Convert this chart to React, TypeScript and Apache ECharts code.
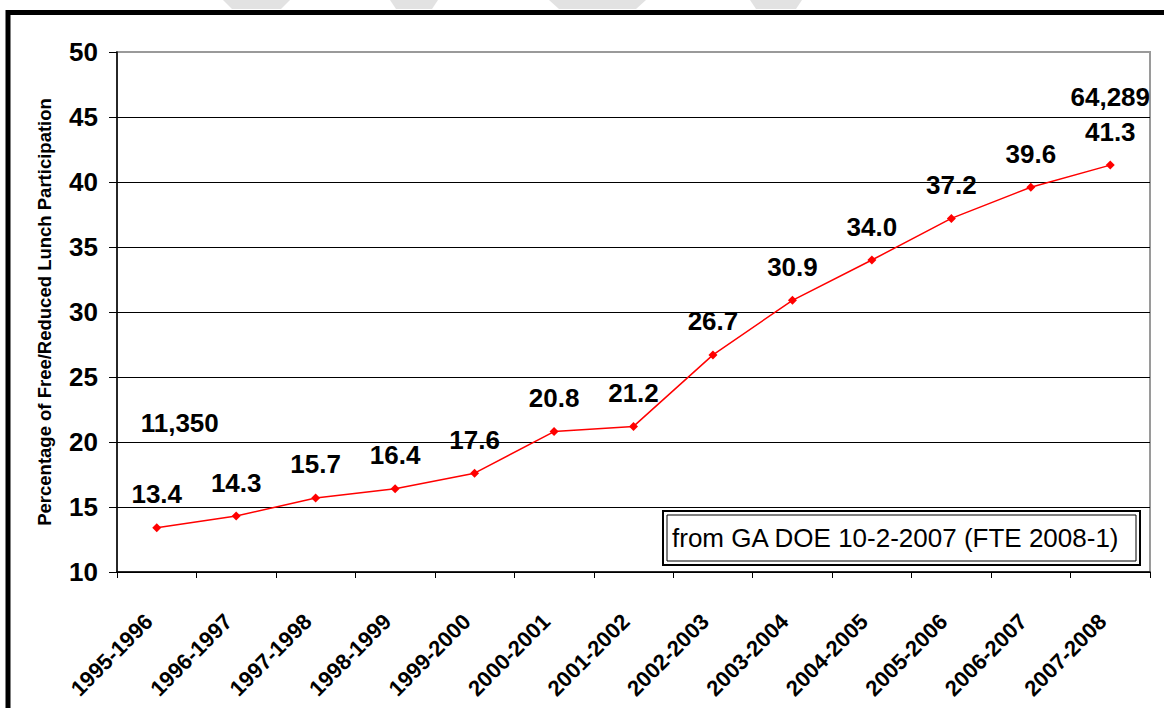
import React, { useEffect, useRef } from "react";
import * as echarts from "echarts";

const categories = [
  "1995-1996", "1996-1997", "1997-1998", "1998-1999", "1999-2000", "2000-2001", "2001-2002",
  "2002-2003", "2003-2004", "2004-2005", "2005-2006", "2006-2007", "2007-2008",
];
const participation = [13.4, 14.3, 15.7, 16.4, 17.6, 20.8, 21.2, 26.7, 30.9, 34.0, 37.2, 39.6, 41.3];
const enrollmentNotes = [
  { category: "1995-1996", value: 13.4, text: "11,350" },
  { category: "2007-2008", value: 41.3, text: "64,289" },
];
const yTicks = { min: 10, max: 50, interval: 5 };
const yTitle = "Percentage of Free/Reduced Lunch Participation";
const sourceNote = "from GA DOE 10-2-2007 (FTE 2008-1)";

const FONT = "Arial, 'Liberation Sans', sans-serif";

export default function App() {
  const ref = useRef<HTMLDivElement>(null);
  useEffect(() => {
    if (!ref.current) return;
    const chart = echarts.init(ref.current, null, { renderer: "svg" });
    const splitColors = ["#000", "#000", "#000", "#000", "#000", "#000", "#000", "#000", "#9a9a9a"];
    chart.setOption({
      animation: false,
      backgroundColor: "#fff",
      textStyle: { fontFamily: FONT },
      grid: {
        left: 117,
        top: 52,
        right: 14,
        bottom: 136,
        show: true,
        borderColor: "#9a9a9a",
        borderWidth: 2,
        backgroundColor: "transparent",
      },
      xAxis: {
        type: "category",
        data: categories,
        boundaryGap: true,
        axisLine: { lineStyle: { color: "#000", width: 1.5 } },
        axisTick: { show: true, interval: 0, length: 6, lineStyle: { color: "#000" } },
        axisLabel: {
          interval: 0,
          rotate: 45,
          margin: 38,
          padding: [0, 11, 0, 0],
          color: "#000",
          fontWeight: "bold",
          fontSize: 22,
          fontFamily: FONT,
        },
      },
      yAxis: {
        type: "value",
        min: yTicks.min,
        max: yTicks.max,
        interval: yTicks.interval,
        name: yTitle,
        nameLocation: "middle",
        nameRotate: 90,
        nameGap: 63,
        nameTextStyle: { color: "#000", fontWeight: "bold", fontSize: 18.5, fontFamily: FONT },
        axisLine: { show: true, lineStyle: { color: "#000", width: 1.5 } },
        axisTick: { show: true, length: 8, lineStyle: { color: "#000" } },
        axisLabel: { color: "#000", fontWeight: "bold", fontSize: 26, margin: 19, fontFamily: FONT },
        splitLine: { show: true, lineStyle: { color: splitColors, width: 1 } },
      },
      series: [
        {
          type: "line",
          data: participation,
          symbol: "diamond",
          symbolSize: 9,
          itemStyle: { color: "#ff0000" },
          lineStyle: { color: "#ff0000", width: 1.5 },
          label: {
            show: true,
            position: "top",
            distance: 16,
            color: "#000",
            fontWeight: "bold",
            fontSize: 26,
            fontFamily: FONT,
            formatter: (p: any) => Number(p.value).toFixed(1),
          },
          markPoint: {
            symbol: "circle",
            symbolSize: 0,
            silent: true,
            label: {
              show: true,
              color: "#000",
              fontWeight: "bold",
              fontSize: 26,
              fontFamily: FONT,
              position: "inside",
            },
            data: enrollmentNotes.map((n, i) => ({
              coord: [n.category, n.value],
              value: n.text,
              label: { formatter: n.text, offset: i === 0 ? [23, -105] : [0, -68] },
            })),
          },
        },
      ],
      graphic: [
        { type: "polygon", shape: { points: [[223, 0], [290, 0], [281, 9], [232, 9]] }, style: { fill: "#e2e2e2" }, silent: true },
        { type: "polygon", shape: { points: [[390, 0], [438, 0], [432, 9], [396, 9]] }, style: { fill: "#e2e2e2" }, silent: true },
        { type: "polygon", shape: { points: [[549, 0], [646, 0], [636, 9], [559, 9]] }, style: { fill: "#e2e2e2" }, silent: true },
        { type: "polygon", shape: { points: [[750, 0], [802, 0], [796, 9], [756, 9]] }, style: { fill: "#e2e2e2" }, silent: true },
        {
          type: "rect",
          shape: { x: 8, y: 12.5, width: 1300, height: 900 },
          style: { fill: "none", stroke: "#000", lineWidth: 5 },
          silent: true,
          z: 100,
        },
        {
          type: "group",
          z: 100,
          children: [
            { type: "rect", shape: { x: 663, y: 511, width: 477, height: 54 }, style: { fill: "#fff", stroke: "#000", lineWidth: 2 } },
            { type: "rect", shape: { x: 667, y: 515, width: 469, height: 46 }, style: { fill: "#fff", stroke: "#000", lineWidth: 1 } },
            {
              type: "text",
              x: 672,
              y: 538,
              style: { text: sourceNote, fill: "#000", font: `26px ${FONT}`, textVerticalAlign: "middle" },
            },
          ],
        },
      ],
    });
    return () => chart.dispose();
  }, []);
  return <div ref={ref} style={{ position: "fixed", left: 0, top: 0, width: 1164, height: 708 }} />;
}
